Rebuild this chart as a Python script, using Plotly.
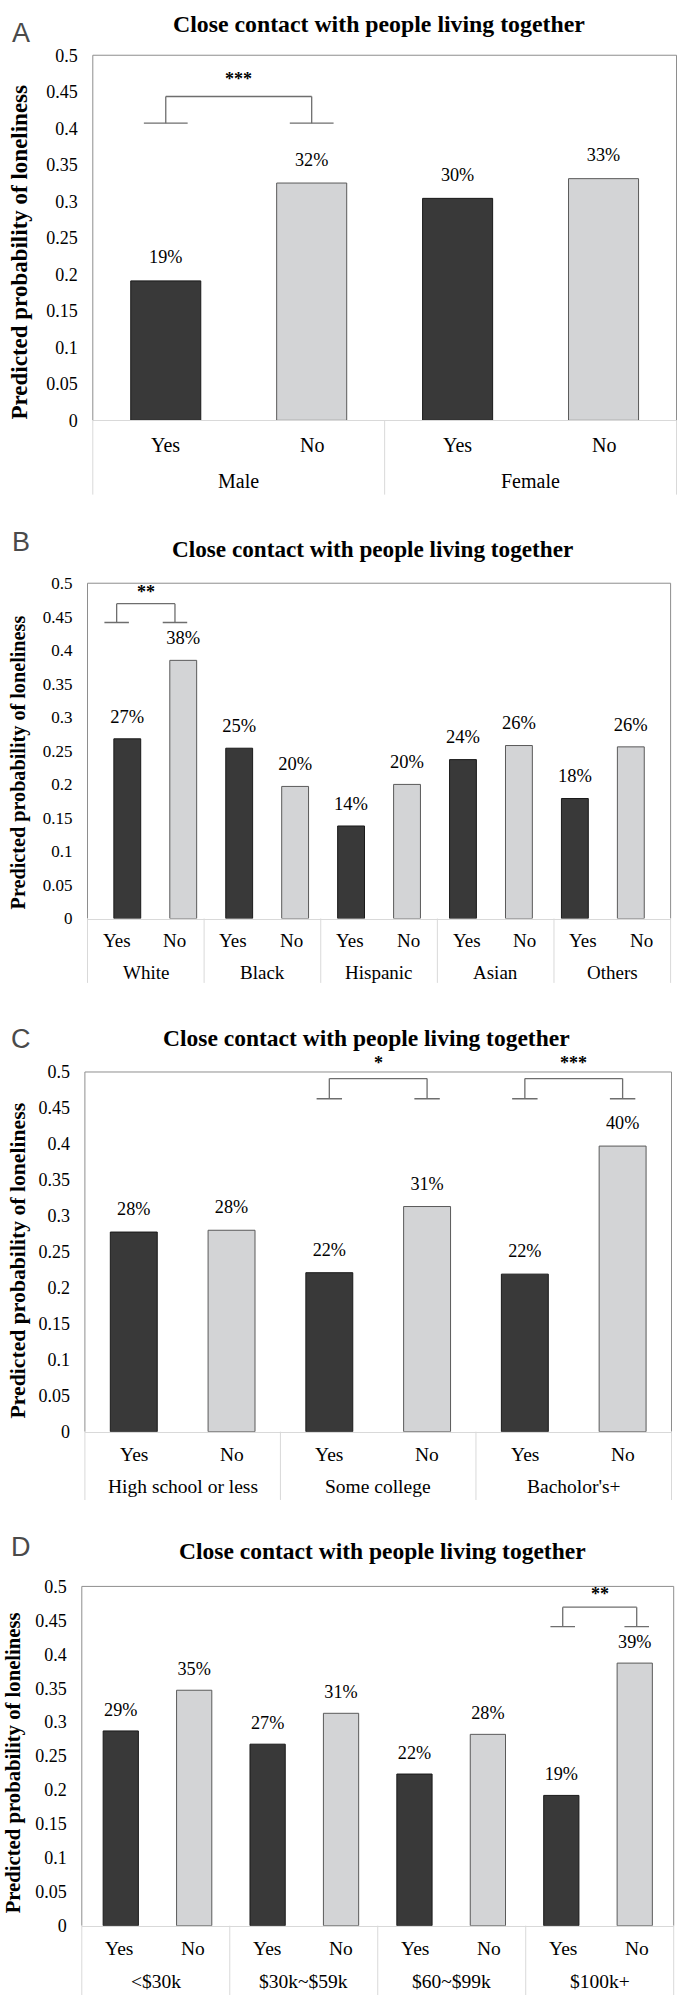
import plotly.graph_objects as go

W, H = 686, 2005

# ---------------- data ----------------
a_groups = ["Male", "Male", "Female", "Female"]
a_subs = ["Yes", "No", "Yes", "No"]
a_vals = [0.191, 0.325, 0.304, 0.331]
a_labels = ["19%", "32%", "30%", "33%"]
a_sig = [(0, 1, 0.407, 0.4435, "***", 0.468)]

b_groups = ["White", "White", "Black", "Black", "Hispanic", "Hispanic",
            "Asian", "Asian", "Others", "Others"]
b_subs = ["Yes", "No"] * 5
b_vals = [0.268, 0.385, 0.254, 0.197, 0.138, 0.200, 0.237, 0.258, 0.179, 0.256]
b_labels = ["27%", "38%", "25%", "20%", "14%", "20%", "24%", "26%", "18%", "26%"]
b_sig = [(0, 1, 0.4414, 0.4695, "**", 0.487)]

c_groups = ["High school or less", "High school or less", "Some college",
            "Some college", "Bacholor's+", "Bacholor's+"]
c_subs = ["Yes", "No"] * 3
c_vals = [0.2775, 0.280, 0.221, 0.313, 0.219, 0.397]
c_labels = ["28%", "28%", "22%", "31%", "22%", "40%"]
c_sig = [(2, 3, 0.4628, 0.4908, "*", 0.512), (4, 5, 0.4628, 0.4908, "***", 0.512)]

d_groups = ["&lt;$30k", "&lt;$30k", "$30k~$59k", "$30k~$59k",
            "$60~$99k", "$60~$99k", "$100k+", "$100k+"]
d_subs = ["Yes", "No"] * 4
d_vals = [0.287, 0.347, 0.2675, 0.313, 0.2235, 0.282, 0.192, 0.387]
d_labels = ["29%", "35%", "27%", "31%", "22%", "28%", "19%", "39%"]
d_sig = [(6, 7, 0.4407, 0.4694, "**", 0.4888)]

title_text = "Close contact with people living together"
ytitle_text = "Predicted probability of loneliness"
y_ticks = [0, 0.05, 0.1, 0.15, 0.2, 0.25, 0.3, 0.35, 0.4, 0.45, 0.5]
Y_MAX = 0.5

# ---------------- layout geometry (pixels) ----------------
panels = [
    dict(letter="A", groups=a_groups, subs=a_subs, vals=a_vals, labels=a_labels, sig=a_sig,
         left=92.8, right=676.5, top=45.7, zero=414.5,
         title_x=378.6, title_y=14, letter_y=23, ytitle_x=20, ytitle_y=245,
         sub_dy=24.5, grp_dy=61.5, div_dy=75,
         f_tick=18, f_cat=20, f_ytitle=23, f_lab=18.2, f_title=23.8,
         lab_msize=19, hw=0.15),
    dict(letter="B", groups=b_groups, subs=b_subs, vals=b_vals, labels=b_labels, sig=b_sig,
         left=87.5, right=670.6, top=579, zero=917.7,
         title_x=372.5, title_y=544, letter_y=537.5, ytitle_x=18, ytitle_y=760,
         sub_dy=22.3, grp_dy=54.6, div_dy=65,
         f_tick=17, f_cat=19, f_ytitle=20.2, f_lab=18.5, f_title=23.2,
         lab_msize=17, hw=0.21),
    dict(letter="C", groups=c_groups, subs=c_subs, vals=c_vals, labels=c_labels, sig=c_sig,
         left=84.9, right=671.5, top=1072.7, zero=1436,
         title_x=366, title_y=1038, letter_y=1039, ytitle_x=18, ytitle_y=1263,
         sub_dy=23.3, grp_dy=55.7, div_dy=69,
         f_tick=18, f_cat=19.5, f_ytitle=21.7, f_lab=18.2, f_title=23.5,
         lab_msize=18, hw=0.13),
    dict(letter="D", groups=d_groups, subs=d_subs, vals=d_vals, labels=d_labels, sig=d_sig,
         left=81.8, right=673.7, top=1592.3, zero=1935,
         title_x=382.6, title_y=1557, letter_y=1552.5, ytitle_x=13, ytitle_y=1771,
         sub_dy=23, grp_dy=56.7, div_dy=70,
         f_tick=18, f_cat=19.5, f_ytitle=20.7, f_lab=18.2, f_title=23.5,
         lab_msize=15, hw=0.166),
]

SERIF = "Liberation Serif, Times New Roman, serif"
SANS = "Liberation Sans, Arial, sans-serif"
DARK = "#393939"
LIGHT = "#d3d4d6"
FRAME = "#8e8e8e"
AXIS_LIGHT = "#d9d9d9"
BRACKET = "#6e6e6e"


def px(x):
    return x / W


def py(y):
    return 1 - y / H


fig = go.Figure()
layout = dict(width=W, height=H, margin=dict(l=0, r=0, t=0, b=0, pad=0),
              paper_bgcolor="white", plot_bgcolor="white", showlegend=False,
              bargap=0.52, font=dict(family=SERIF, color="black"))
shapes = []
annotations = []

for k, p in enumerate(panels, start=1):
    xa = "x" if k == 1 else f"x{k}"
    ya = "y" if k == 1 else f"y{k}"
    xkey = "xaxis" if k == 1 else f"xaxis{k}"
    ykey = "yaxis" if k == 1 else f"yaxis{k}"
    n = len(p["vals"])
    colors = [DARK if s == "Yes" else LIGHT for s in p["subs"]]
    lcolors = ["#1a1a1a" if s == "Yes" else "#5a5a5a" for s in p["subs"]]

    fig.add_trace(go.Bar(
        x=[p["groups"], p["subs"]], y=p["vals"], xaxis=xa, yaxis=ya,
        marker=dict(color=colors, line=dict(color=lcolors, width=1)),
        hoverinfo="skip"))
    fig.add_trace(go.Scatter(
        x=[p["groups"], p["subs"]], y=p["vals"], xaxis=xa, yaxis=ya,
        mode="markers+text", text=p["labels"], textposition="top center",
        textfont=dict(family=SERIF, size=p["f_lab"], color="black"),
        marker=dict(size=p["lab_msize"], opacity=0), cliponaxis=False,
        hoverinfo="skip"))

    layout[xkey] = dict(
        type="multicategory", domain=[px(p["left"]), px(p["right"])], anchor=ya,
        showline=True, linecolor=AXIS_LIGHT, linewidth=1, ticks="",
        showticklabels=False, showdividers=False,
        showgrid=False, zeroline=False, fixedrange=True)
    layout[ykey] = dict(
        domain=[py(p["zero"]), py(p["top"])], anchor=xa, range=[0, Y_MAX],
        tickvals=y_ticks, ticks="", showgrid=False, zeroline=False, showline=False,
        ticklabelstandoff=14,
        tickfont=dict(family=SERIF, size=p["f_tick"], color="black"), fixedrange=True)

    xd, yd = f"{xa} domain", f"{ya} domain"
    # plot frame (left, top, right)
    for (x0, y0, x1, y1) in [(0, 0, 0, 1), (0, 1, 1, 1), (1, 0, 1, 1)]:
        shapes.append(dict(type="line", xref=xd, yref=yd, x0=x0, y0=y0, x1=x1, y1=y1,
                           line=dict(color=FRAME, width=1)))

    # two-level category labels and group dividers
    groups_order = []
    for g in p["groups"]:
        if g not in groups_order:
            groups_order.append(g)
    bounds = [0]
    for g in groups_order:
        bounds.append(bounds[-1] + p["groups"].count(g))
    for b in bounds:
        shapes.append(dict(type="line", xref=xd, yref="paper", x0=b / n, x1=b / n,
                           y0=py(p["zero"]), y1=py(p["zero"] + p["div_dy"]),
                           line=dict(color=AXIS_LIGHT, width=1)))
    for i, s in enumerate(p["subs"]):
        annotations.append(dict(xref=xd, yref="paper", x=(i + 0.5) / n,
                                y=py(p["zero"] + p["sub_dy"]), text=s, showarrow=False,
                                xanchor="center", yanchor="middle",
                                font=dict(family=SERIF, size=p["f_cat"], color="black")))
    for gi, g in enumerate(groups_order):
        annotations.append(dict(xref=xd, yref="paper", x=(bounds[gi] + bounds[gi + 1]) / 2 / n,
                                y=py(p["zero"] + p["grp_dy"]), text=g, showarrow=False,
                                xanchor="center", yanchor="middle",
                                font=dict(family=SERIF, size=p["f_cat"], color="black")))

    # significance brackets
    for (i, j, lo, hi, stars, sy) in p["sig"]:
        ci = (i + 0.5) / n
        cj = (j + 0.5) / n
        hw = p["hw"] / n
        segs = [(ci, hi, cj, hi), (ci, lo, ci, hi), (cj, lo, cj, hi),
                (ci - hw, lo, ci + hw, lo), (cj - hw, lo, cj + hw, lo)]
        for (x0, y0, x1, y1) in segs:
            shapes.append(dict(type="line", xref=xd, yref=ya, x0=x0, y0=y0, x1=x1, y1=y1,
                               line=dict(color=BRACKET, width=1.3)))
        annotations.append(dict(xref=xd, yref=yd, x=(ci + cj) / 2, y=sy / Y_MAX,
                                text=f"<b>{stars}</b>", showarrow=False,
                                xanchor="center", yanchor="middle",
                                font=dict(family=SERIF, size=18, color="black")))

    # chart title
    annotations.append(dict(xref="paper", yref="paper", x=px(p["title_x"]), y=py(p["title_y"]),
                            text=f"<b>{title_text}</b>", showarrow=False,
                            xanchor="center", yanchor="middle",
                            font=dict(family=SERIF, size=p["f_title"], color="black")))
    # panel letter
    annotations.append(dict(xref="paper", yref="paper", x=px(20.5), y=py(p["letter_y"]),
                            text=p["letter"], showarrow=False,
                            xanchor="center", yanchor="middle",
                            font=dict(family=SANS, size=27, color="#4a4a4a")))
    # y axis title
    annotations.append(dict(xref="paper", yref="paper", x=px(p["ytitle_x"]), y=py(p["ytitle_y"]),
                            text=f"<b>{ytitle_text}</b>", showarrow=False, textangle=-90,
                            xanchor="center", yanchor="middle",
                            font=dict(family=SERIF, size=p["f_ytitle"], color="black")))

layout["shapes"] = shapes
layout["annotations"] = annotations
fig.update_layout(**layout)
fig.write_html("out.html",
               config={"displayModeBar": False, "staticPlot": True},
               post_script="document.body.style.margin='0';document.body.style.padding='0';")
